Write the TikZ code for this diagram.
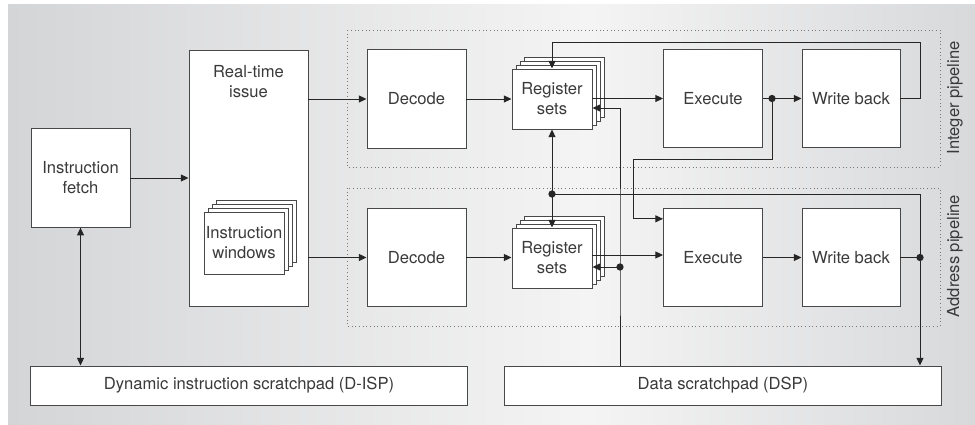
\documentclass[tikz,border=0pt]{standalone}
\usepackage{fontspec}
\setmainfont{TeX Gyre Heros}
\usetikzlibrary{arrows.meta,calc}

\definecolor{bgL}{RGB}{212,213,215}
\definecolor{bgM}{RGB}{244,244,244}
\definecolor{bgR}{RGB}{216,217,219}
\definecolor{txt}{RGB}{58,58,58}
\definecolor{boxline}{RGB}{72,72,72}
\definecolor{wireline}{RGB}{38,38,38}
\definecolor{frameline}{RGB}{120,120,120}
\pgfdeclarehorizontalshading{bgshade}{100bp}{color(0bp)=(bgL); color(25bp)=(bgL); color(55bp)=(bgM); color(75bp)=(bgR); color(100bp)=(bgR)}

\begin{document}
\begin{tikzpicture}[x=0.025cm,y=-0.025cm,
	font=\fontsize{11.8}{14.2}\selectfont,
	box/.style={draw=boxline,fill=white,line width=0.65pt,text=txt,inner sep=0pt,align=center},
	stage/.style={box,minimum width=2.475cm,minimum height=2.46cm},
	regbox/.style={box,minimum width=2cm,minimum height=1.5cm},
	pad/.style={box,minimum width=10.9cm,minimum height=0.975cm},
	layer/.style={draw=boxline,fill=white,line width=0.65pt},
	wire/.style={draw=wireline,line width=0.7pt},
	arr/.style={wire,-{Triangle[length=5.5pt,width=5pt]}},
	arrs/.style={wire,{Triangle[length=5.5pt,width=5pt]}-{Triangle[length=5.5pt,width=5pt]}},
	frame/.style={draw=frameline,dotted,line width=0.6pt},
	side/.style={rotate=90,text=txt}]
	\useasboundingbox (0,0) rectangle (975,425);
	\shade[shading=bgshade] (8,5) rectangle (975,425);
	\draw[frame] (347,30) rectangle (940,167);
	\draw[frame] (347,188) rectangle (940,326);
	\node[stage] (fetch) at (80.5,178) {Instruction\\fetch};
	\node[box,minimum width=2.975cm,minimum height=6.4cm] (issue) at (248.5,178) {};
	\node[text=txt,align=center] (issuetxt) at (248.5,82) {Real-time\\issue};
	\draw[layer] (216,200) rectangle (296,262);
	\draw[layer] (212,204) rectangle (292,266);
	\draw[layer] (208,208) rectangle (288,270);
	\node[box,minimum width=2cm,minimum height=1.55cm] (win) at (244,243) {Instruction\\windows};
	\node[stage] (decA) at (416.5,99) {Decode};
	\node[stage] (decB) at (416.5,257.5) {Decode};
	\draw[layer] (524,57) rectangle (604,117);
	\draw[layer] (520,61) rectangle (600,121);
	\draw[layer] (516,65) rectangle (596,125);
	\node[regbox] (regA) at (552,99) {Register\\sets};
	\draw[layer] (524,216) rectangle (604,276);
	\draw[layer] (520,220) rectangle (600,280);
	\draw[layer] (516,224) rectangle (596,284);
	\node[regbox] (regB) at (552,258) {Register\\sets};
	\node[stage] (exeA) at (713,98.5) {Execute};
	\node[stage] (exeB) at (713,257.5) {Execute};
	\node[stage,minimum width=2.45cm] (wbA) at (851,98.5) {Write back};
	\node[stage,minimum width=2.45cm] (wbB) at (851,257.5) {Write back};
	\node[pad] (disp) at (249,385.5) {Dynamic instruction scratchpad (D-ISP)};
	\node[pad] (dsp) at (723,385.5) {Data scratchpad (DSP)};
	\node[side] (intlbl) at (955,98) {Integer pipeline};
	\node[side] (addrlbl) at (955,256) {Address pipeline};
	\coordinate (fbA) at (920,42);
	\coordinate (jA) at (772,98.5);
	\coordinate (crossA) at (633,159);
	\coordinate (jB) at (wbB.east -| fbA);
	\coordinate (jC) at (552,194);
	\coordinate (jD) at (620,267);
	\draw[arr] (fetch) -- (issue);
	\draw[arrs] (fetch.south) -- (fetch.south |- disp.north);
	\draw[arr] (issue.east |- decA) -- (decA);
	\draw[arr] (issue.east |- decB) -- (decB);
	\draw[arr] (decA) -- (regA);
	\draw[arr] (decB) -- (decB -| regB.west);
	\draw[arr] (regA.east |- exeA) -- (exeA);
	\draw[arr] (regB.east |- 0,255) -- (exeB.west |- 0,255);
	\draw[arr] (exeA) -- (wbA);
	\draw[arr] (exeB) -- (wbB);
	\draw[arr] (wbA.east) -| (fbA) -| (regA.north);
	\draw[arr] (jA) |- (crossA) |- ($(exeB.north west)+(0,11)$);
	\draw[wire] (wbB.east) -- (jB);
	\draw[arr] (jB) -- (jB |- dsp.north);
	\draw[wire] (jB) |- (jC);
	\draw[arr] (jC) -- (regA.south);
	\draw[arr] (jC) -- (regB.north);
	\draw[arr] (jD |- dsp.north) -- (jD) |- ($(regA.east)+(0,9)$);
	\draw[arr] (jD) -- (jD -| regB.east);
	\fill[wireline] (jA) circle[radius=2.6pt];
	\fill[wireline] (jB) circle[radius=2.6pt];
	\fill[wireline] (jC) circle[radius=2.6pt];
	\fill[wireline] (jD) circle[radius=2.6pt];
\end{tikzpicture}
\end{document}
